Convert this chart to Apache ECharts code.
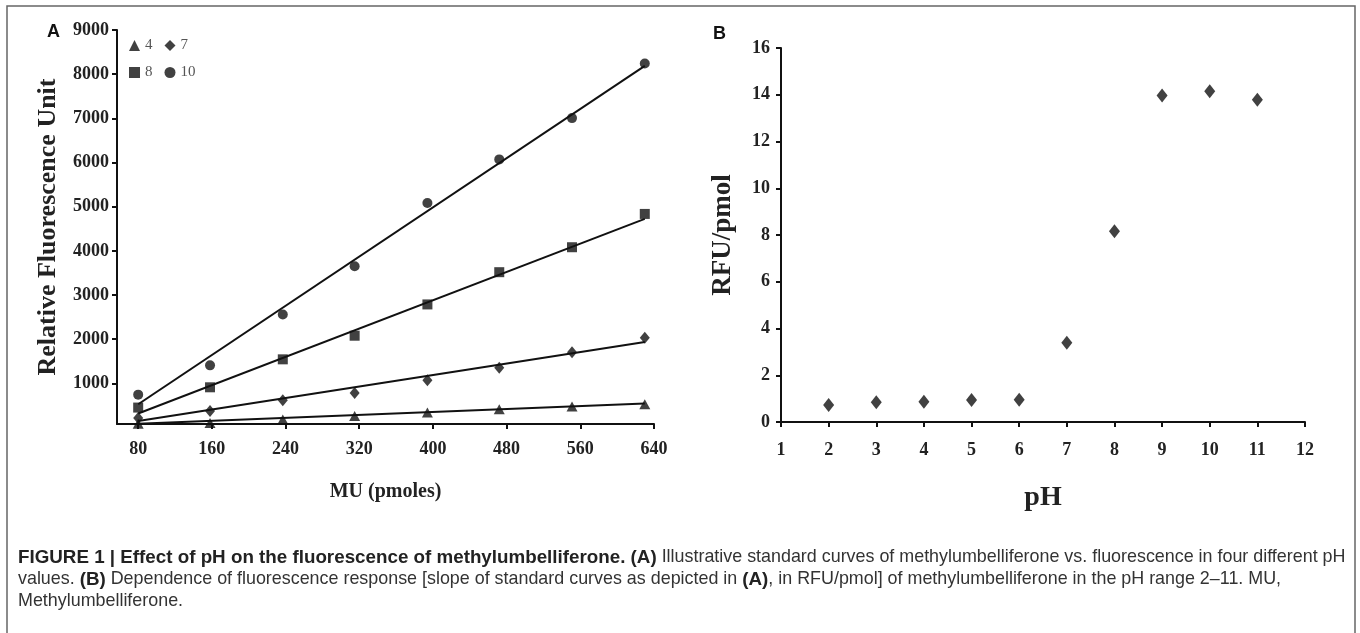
<!DOCTYPE html>
<html>
<head>
<meta charset="utf-8">
<script src="https://cdn.jsdelivr.net/npm/echarts@6/dist/echarts.min.js"></script>
<style>
html,body{margin:0;padding:0;background:#fff;}
#c{width:1360px;height:633px;}
</style>
</head>
<body>
<div id="c"></div>
<script>
// ---- Panel A data ----
const seriesNamesA = ['4', '7', '8', '10'];
const muX = [80, 158, 237, 315, 394, 472, 551, 630];
const rfuPH4 = [88, 105, 180, 262, 340, 415, 476, 528];
const rfuPH7 = [218, 376, 617, 782, 1069, 1356, 1702, 2034];
const rfuPH8 = [452, 911, 1544, 2079, 2787, 3517, 4082, 4836];
const rfuPH10 = [745, 1408, 2561, 3653, 5085, 6071, 7005, 8240];
const fitX = [80, 630];
const fitPH4 = [85, 542];
const fitPH7 = [150, 1935];
const fitPH8 = [317, 4723];
const fitPH10 = [527, 8188];
const xTicksA = [80, 160, 240, 320, 400, 480, 560, 640];
const yTicksA = [1000, 2000, 3000, 4000, 5000, 6000, 7000, 8000, 9000];
// ---- Panel B data ----
const pHB = [2, 3, 4, 5, 6, 7, 8, 9, 10, 11];
const rfuPerPmol = [0.73, 0.84, 0.87, 0.94, 0.95, 3.39, 8.16, 13.97, 14.15, 13.79];

const serif = '"Liberation Serif", "Times New Roman", serif';
const sans = '"Liberation Sans", Arial, sans-serif';

function pairs(xs, ys) { return xs.map((x, i) => [x, ys[i]]); }

const symbols = { '4': 'triangle', '7': 'diamond', '8': 'rect', '10': 'circle' };
const dataA = { '4': rfuPH4, '7': rfuPH7, '8': rfuPH8, '10': rfuPH10 };
const fitsA = { '4': fitPH4, '7': fitPH7, '8': fitPH8, '10': fitPH10 };
const sizes = { '4': [11, 10], '7': [10, 12], '8': [10, 10], '10': [10, 10] };

const series = [];
seriesNamesA.forEach(n => {
  series.push({
    type: 'line', xAxisIndex: 0, yAxisIndex: 0, data: pairs(fitX, fitsA[n]),
    showSymbol: false, symbol: 'none', lineStyle: { color: '#111', width: 2 },
    silent: true, clip: false, z: 2
  });
});
seriesNamesA.forEach(n => {
  series.push({
    name: n, type: 'scatter', xAxisIndex: 0, yAxisIndex: 0,
    data: pairs(muX, dataA[n]), symbol: symbols[n], symbolSize: sizes[n],
    itemStyle: { color: '#111' }, clip: false, z: 3
  });
});
series.push({
  name: 'B', type: 'scatter', xAxisIndex: 1, yAxisIndex: 1,
  data: pairs(pHB, rfuPerPmol), symbol: 'diamond', symbolSize: [11, 14],
  itemStyle: { color: '#111' }
});

const axisLine = { show: true, lineStyle: { color: '#111', width: 2 } };
const axisTick = { show: true, length: 5, lineStyle: { color: '#111', width: 2 } };
const tickLabel = { color: '#222', fontFamily: serif, fontWeight: 'bold', fontSize: 18, formatter: v => String(v) };

const legendCommon = {
  orient: 'horizontal', itemWidth: 11, itemHeight: 11, itemGap: 12,
  textStyle: { color: '#555', fontFamily: serif, fontSize: 15 }, selectedMode: false
};

const chart = echarts.init(document.getElementById('c'), null, { renderer: 'canvas' });
chart.setOption({
  animation: false,
  backgroundColor: '#fff',
  legend: [
    Object.assign({ data: [{ name: '4', icon: 'triangle', itemStyle: { color: '#111' } }, { name: '7', icon: 'diamond', itemStyle: { color: '#111' } }], left: 124, top: 33 }, legendCommon),
    Object.assign({ data: [{ name: '8', icon: 'rect', itemStyle: { color: '#111' } }, { name: '10', icon: 'circle', itemStyle: { color: '#111' } }], left: 124, top: 60 }, legendCommon)
  ],
  grid: [
    { left: 117, top: 30, width: 537, height: 394 },
    { left: 781, top: 48, width: 524, height: 374 }
  ],
  xAxis: [
    {
      gridIndex: 0, type: 'value', min: 57, max: 640,
      name: 'MU (pmoles)', nameLocation: 'middle', nameGap: 58,
      nameTextStyle: { color: '#222', fontFamily: serif, fontWeight: 'bold', fontSize: 20 },
      axisLine, axisTick: Object.assign({ customValues: xTicksA }, axisTick),
      axisLabel: Object.assign({}, tickLabel, { customValues: xTicksA, margin: 16 }),
      splitLine: { show: false }
    },
    {
      gridIndex: 1, type: 'value', min: 1, max: 12, interval: 1,
      name: 'pH', nameLocation: 'middle', nameGap: 62,
      nameTextStyle: { color: '#222', fontFamily: serif, fontWeight: 'bold', fontSize: 28 },
      axisLine, axisTick,
      axisLabel: Object.assign({}, tickLabel, { margin: 19 }),
      splitLine: { show: false }
    }
  ],
  yAxis: [
    {
      gridIndex: 0, type: 'value', min: 80, max: 9000,
      name: 'Relative Fluorescence Unit', nameLocation: 'middle', nameGap: 56,
      nameTextStyle: { color: '#222', fontFamily: serif, fontWeight: 'bold', fontSize: 26 },
      axisLine, axisTick: Object.assign({ customValues: yTicksA }, axisTick),
      axisLabel: Object.assign({}, tickLabel, { customValues: yTicksA, margin: 8 }),
      splitLine: { show: false }
    },
    {
      gridIndex: 1, type: 'value', min: 0, max: 16, interval: 2,
      name: 'RFU/pmol', nameLocation: 'middle', nameGap: 44,
      nameTextStyle: { color: '#222', fontFamily: serif, fontWeight: 'bold', fontSize: 27 },
      axisLine, axisTick,
      axisLabel: Object.assign({}, tickLabel, { margin: 11 }),
      splitLine: { show: false }
    }
  ],
  series: series,
  graphic: [
    { type: 'rect', shape: { x: 7, y: 6, width: 1348, height: 640 }, style: { fill: 'none', stroke: '#666', lineWidth: 1.5 }, silent: true },
    { type: 'text', left: 47, top: 23, style: { text: 'A', font: 'bold 18px ' + sans, fill: '#111' } },
    { type: 'text', left: 713, top: 25, style: { text: 'B', font: 'bold 18px ' + sans, fill: '#111' } },
    {
      type: 'text', left: 18, top: 548,
      style: {
        text: '{b|FIGURE 1 | Effect of pH on the fluorescence of methylumbelliferone. (A)}{n| Illustrative standard curves of methylumbelliferone vs. fluorescence in four different pH}',
        rich: {
          b: { fontFamily: sans, fontWeight: 'bold', fontSize: 18.8, fill: '#222', lineHeight: 22 },
          n: { fontFamily: sans, fontSize: 17.9, fill: '#333', lineHeight: 22 }
        }
      }
    },
    {
      type: 'text', left: 18, top: 570,
      style: {
        text: '{n|values. }{b|(B)}{n| Dependence of fluorescence response [slope of standard curves as depicted in }{b|(A)}{n|, in RFU/pmol] of methylumbelliferone in the pH range 2–11. MU,}',
        rich: {
          b: { fontFamily: sans, fontWeight: 'bold', fontSize: 18.8, fill: '#222', lineHeight: 22 },
          n: { fontFamily: sans, fontSize: 17.9, fill: '#333', lineHeight: 22 }
        }
      }
    },
    {
      type: 'text', left: 18, top: 592,
      style: { text: 'Methylumbelliferone.', font: '17.9px ' + sans, fill: '#333' }
    }
  ]
});
</script>
</body>
</html>
